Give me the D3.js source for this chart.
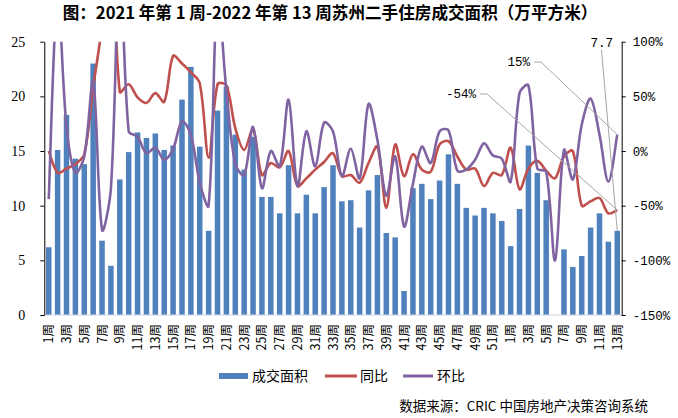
<!DOCTYPE html>
<html><head><meta charset="utf-8">
<script src="https://cdn.jsdelivr.net/npm/d3@7"></script>
<style>body{margin:0;background:#fff}</style>
</head><body>
<svg id="chart" width="678" height="418"></svg>
<script>
const categories = [
 "1周","2周","3周","4周","5周","6周","7周","8周","9周","10周","11周","12周","13周","14周","15周","16周","17周","18周","19周","20周",
 "21周","22周","23周","24周","25周","26周","27周","28周","29周","30周","31周","32周","33周","34周","35周","36周","37周","38周","39周","40周",
 "41周","42周","43周","44周","45周","46周","47周","48周","49周","50周","51周","52周",
 "2022-1周","2022-2周","2022-3周","2022-4周","2022-5周","2022-6周","2022-7周","2022-8周","2022-9周","2022-10周","2022-11周","2022-12周","2022-13周"];
const tickLabels = ["1周","3周","5周","7周","9周","11周","13周","15周","17周","19周","21周","23周","25周","27周","29周","31周","33周","35周","37周","39周","41周","43周","45周","47周","49周","51周",
 "1周","3周","5周","7周","9周","11周","13周"];
// 成交面积（万平方米）
const area = [6.2,15.1,18.3,14.3,13.8,23.0,6.8,4.5,12.4,14.9,16.7,16.2,16.6,15.1,15.5,19.7,22.7,15.4,7.7,18.7,
 20.9,16.5,13.3,16.3,10.8,10.8,9.3,13.7,9.3,11.0,9.3,11.7,13.7,10.4,10.5,8.0,11.4,12.8,7.5,7.1,
 2.2,11.6,12.0,10.6,12.3,14.7,12.0,9.8,9.1,9.8,9.3,8.6,
 6.3,9.7,15.5,13.0,10.5,0,6.0,4.4,5.4,8.0,9.3,6.7,7.7];
// 同比 (%)
const yoy = [0,-20,-16,-12,-3,58,115,200,54,61,49,44,53,45,87,80,72,62,-6,61,
 60,21,1,20,-22,-11,-15,0,-32,-25,-17,-10,-2,-23,-22,-29,-11,4,-52,6,
 -23,-3,-17,-19,6,9,-5,-17,-16,-32,-20,-22,
 3,-35,-16,-9,-18,-25,-5,0,-50,-46,-43,-57,-54];
// 环比 (%)
const mom = [-44,143,22,-20,-5,64,-72,-34,175,18,13,-2,3,-8,2,27,15,-29,-50,143,
 55,-12,-22,22,-34,0,-14,47,-32,18,-14,26,18,-23,2,-25,43,10,-41,-5,
 -69,-30,4,-11,18,19,-18,-17,-8,7,-4,-7,
 -28,53,60,-16,-19,-100,1,-26,24,48,15,-28,15];
const leftTicks = [0,5,10,15,20,25];
const rightTicks = [-150,-100,-50,0,50,100];
const seriesNames = ["成交面积","同比","环比"];
const titleText = "图：2021 年第 1 周-2022 年第 13 周苏州二手住房成交面积（万平方米）";
const sourceText = "数据来源：CRIC 中国房地产决策咨询系统";

const colors = {bar:"#4f81bd", yoy:"#c0504d", mom:"#8064a2"};
const svg = d3.select("#chart");
const m = {l:44.3, r:621.7, t:41.7, b:315};
const cjk = "'Noto Sans CJK SC', sans-serif";
const mono = "'Liberation Mono', monospace";
const serif = "'Liberation Serif', serif";

const x = d3.scaleBand().domain(categories).range([m.l, m.r]).paddingInner(0.38).paddingOuter(0.19);
const yL = d3.scaleLinear().domain([0,25]).range([m.b, m.t]);
const yR = d3.scaleLinear().domain([-150,100]).range([m.b, m.t]);
const cx = c => x(c) + x.bandwidth()/2;

// Excel-like smoothing: Bezier with tangent (P[i+1]-P[i-1]) weighted by adjacent chord lengths
function excelSmooth(pts) {
  const p = d3.path();
  const n = pts.length;
  const P = i => pts[Math.max(0, Math.min(n - 1, i))];
  const dist = (a, b) => Math.hypot(b[0] - a[0], b[1] - a[1]) || 1e-6;
  p.moveTo(pts[0][0], pts[0][1]);
  for (let i = 0; i < n - 1; i++) {
    const p0 = P(i - 1), p1 = P(i), p2 = P(i + 1), p3 = P(i + 2);
    const d01 = dist(p0, p1), d12 = dist(p1, p2), d23 = dist(p2, p3);
    const f1 = (i === 0 ? 0.5 : d12 / (d01 + d12)) / 3;
    const f2 = (i === n - 2 ? 0.5 : d12 / (d12 + d23)) / 3;
    const c1 = [p1[0] + (p2[0] - p0[0]) * f1, p1[1] + (p2[1] - p0[1]) * f1];
    const c2 = [p2[0] - (p3[0] - p1[0]) * f2, p2[1] - (p3[1] - p1[1]) * f2];
    p.bezierCurveTo(c1[0], c1[1], c2[0], c2[1], p2[0], p2[1]);
  }
  return p.toString();
}
const toPts = vals => vals.map((v, i) => [cx(categories[i]), yR(v)]);

// title
svg.append("text").attr("x", 330).attr("y", 19).attr("text-anchor","middle")
  .attr("font-family", cjk).attr("font-weight","bold").attr("font-size", 16.6).attr("fill","#000")
  .text(titleText);

// bars
svg.append("g").selectAll("rect").data(categories).join("rect")
  .attr("x", c => x(c)).attr("width", x.bandwidth())
  .attr("y", (c,i) => yL(area[i])).attr("height", (c,i) => yL(0) - yL(area[i]))
  .attr("fill", colors.bar);

// x axis baseline
svg.append("line").attr("x1", m.l).attr("x2", m.r).attr("y1", m.b).attr("y2", m.b)
  .attr("stroke", "#d0d8e4").attr("stroke-width", 1.2);

// lines
svg.append("clipPath").attr("id","plotclip").append("rect")
  .attr("x", m.l).attr("y", m.t).attr("width", m.r - m.l).attr("height", m.b - m.t);
const lg = svg.append("g").attr("clip-path","url(#plotclip)");
lg.append("path").attr("d", excelSmooth(toPts(yoy))).attr("fill","none").attr("stroke", colors.yoy).attr("stroke-width", 2.6).attr("stroke-linejoin","round");
lg.append("path").attr("d", excelSmooth(toPts(mom))).attr("fill","none").attr("stroke", colors.mom).attr("stroke-width", 2.6).attr("stroke-linejoin","round");

// left axis
const axL = svg.append("g").attr("transform", `translate(${m.l},0)`)
  .call(d3.axisLeft(yL).tickValues(leftTicks).tickSize(4).tickSizeOuter(0).tickPadding(15));
axL.select(".domain").attr("stroke","#000");
axL.selectAll(".tick line").attr("stroke","#000");
axL.selectAll("text").attr("font-family", serif).attr("font-size", 14).attr("fill","#000");

// right axis
const axR = svg.append("g").attr("transform", `translate(${m.r},0)`)
  .call(d3.axisRight(yR).tickValues(rightTicks).tickSize(4).tickSizeOuter(0).tickPadding(7).tickFormat(d => d + "%"));
axR.select(".domain").attr("stroke","#000");
axR.selectAll(".tick line").attr("stroke","#000");
axR.selectAll("text").attr("font-family", mono).attr("font-size", 12.5).attr("fill","#000");

// x labels (every other week)
const shown = categories.filter((c,i) => i % 2 === 0);
svg.append("g").selectAll("text").data(shown).join("text")
  .attr("transform", (c) => `translate(${cx(c)},${m.b + 9}) rotate(-90)`)
  .attr("text-anchor","end").attr("dy","0.36em")
  .attr("font-family", cjk).attr("font-size", 12.5).attr("fill","#000")
  .text((c,i) => tickLabels[i]);

// annotations
const lastC = categories[categories.length-1];
const n = categories.length - 1;
const ann = svg.append("g");
ann.append("line").attr("x1", 601.5).attr("y1", 50).attr("x2", cx(lastC)).attr("y2", yL(area[n]))
  .attr("stroke","#a6a6a6").attr("stroke-width",1);
ann.append("polyline").attr("points", `534,62 541,62 ${cx(lastC)},${yR(mom[n])}`)
  .attr("fill","none").attr("stroke","#a6a6a6").attr("stroke-width",1);
ann.append("polyline").attr("points", `480,94 487,94 ${cx(lastC)},${yR(yoy[n])}`)
  .attr("fill","none").attr("stroke","#a6a6a6").attr("stroke-width",1);
ann.append("text").attr("x", 613).attr("y", 43).attr("dy","0.35em").attr("text-anchor","end")
  .attr("font-family", mono).attr("font-size", 12.5).text(area[n].toFixed(1));
ann.append("text").attr("x", 530).attr("y", 62).attr("dy","0.35em").attr("text-anchor","end")
  .attr("font-family", mono).attr("font-size", 12.5).text(mom[n] + "%");
ann.append("text").attr("x", 476).attr("y", 94).attr("dy","0.35em").attr("text-anchor","end")
  .attr("font-family", mono).attr("font-size", 12.5).text(yoy[n] + "%");

// legend
const leg = svg.append("g").attr("font-family", cjk).attr("font-size", 14).attr("fill","#000");
leg.append("rect").attr("x", 219).attr("y", 373).attr("width", 29).attr("height", 6).attr("fill", colors.bar);
leg.append("text").attr("x", 252).attr("y", 376).attr("dy","0.35em").text(seriesNames[0]);
leg.append("line").attr("x1", 325).attr("x2", 357).attr("y1", 376).attr("y2", 376).attr("stroke", colors.yoy).attr("stroke-width", 3);
leg.append("text").attr("x", 360).attr("y", 376).attr("dy","0.35em").text(seriesNames[1]);
leg.append("line").attr("x1", 403).attr("x2", 433).attr("y1", 376).attr("y2", 376).attr("stroke", colors.mom).attr("stroke-width", 3);
leg.append("text").attr("x", 437).attr("y", 376).attr("dy","0.35em").text(seriesNames[2]);

// source
svg.append("text").attr("x", 648).attr("y", 406).attr("dy","0.35em").attr("text-anchor","end")
  .attr("font-family", cjk).attr("font-size", 13.5).attr("fill","#000").text(sourceText);
</script>
</body></html>
